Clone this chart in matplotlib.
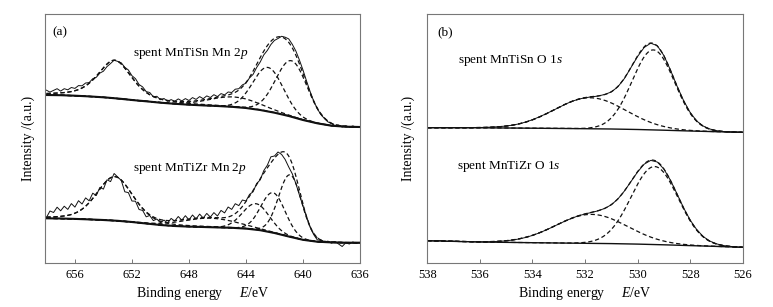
"""XPS Mn 2p and O 1s spectra of spent MnTiSn / MnTiZr with peak fitting."""

from __future__ import annotations

import matplotlib

matplotlib.use("Agg")
import matplotlib.pyplot as plt
import numpy as np


# ---- panel (a): Mn 2p, raw spectra sampled every 0.25 eV from 658 to 636 eV
MN_E_START, MN_E_STOP, MN_E_STEP = 658.0, 636.0, -0.25
MN_SN_RAW = [
    172.8, 170.9, 172.6, 174.3, 171.9, 174.3, 173.2, 175.5, 174.6, 177.4,
    177.2, 180.0, 180.4, 184.3, 185.7, 189.9, 191.8, 196.4, 199.5, 202.8,
    201.6, 200.2, 195.7, 193.0, 187.3, 184.3, 178.5, 176.1, 171.4, 170.5,
    166.2, 166.7, 163.3, 164.5, 161.7, 163.4, 161.7, 164.1, 162.1, 164.4,
    162.5, 165.4, 163.6, 166.4, 164.3, 167.1, 165.5, 168.3, 166.4, 169.4,
    168.1, 171.0, 170.5, 173.8, 174.3, 178.1, 179.8, 185.1, 188.6, 195.5,
    201.0, 208.1, 212.6, 218.5, 222.6, 224.5, 226.7, 225.8, 224.1, 218.7,
    212.0, 203.0, 193.0, 182.0, 171.5, 162.0, 154.5, 148.5, 144.6, 141.1,
    139.6, 137.3, 137.9, 135.9, 137.3, 135.8, 137.1, 135.7, 136.2,
]
MN_ZR_RAW = [
    45.5, 52.0, 50.5, 55.8, 52.2, 56.8, 53.6, 59.4, 55.9, 62.3,
    59.0, 65.1, 62.2, 69.8, 67.5, 75.6, 73.9, 83.2, 81.4, 89.5,
    86.0, 82.6, 71.2, 70.4, 62.0, 61.8, 53.5, 52.6, 46.2, 47.5,
    42.4, 44.0, 40.3, 42.9, 40.0, 44.6, 41.9, 46.5, 42.8, 47.3,
    43.2, 48.0, 44.1, 48.9, 45.0, 49.6, 45.9, 50.4, 47.0, 52.6,
    50.1, 56.0, 53.6, 59.3, 57.4, 63.0, 62.0, 68.6, 71.2, 79.5,
    83.1, 92.4, 97.8, 106.2, 107.0, 111.0, 108.6, 103.5, 96.0, 89.2,
    79.5, 68.0, 57.0, 46.5, 36.0, 28.5, 23.2, 22.6, 20.8, 21.9,
    19.8, 21.4, 19.0, 16.5, 20.2, 19.0, 21.0, 19.6, 20.5,
]
# Shirley-type backgrounds, every 1 eV from 658 to 636 eV
MN_BG_E = [658, 657, 656, 655, 654, 653, 652, 651, 650, 649, 648, 647,
           646, 645, 644, 643, 642, 641, 640, 639, 638, 637, 636]
MN_SN_BG = [168.0, 167.8, 167.3, 166.6, 165.7, 164.5, 163.0, 161.7, 160.3, 159.2, 158.3, 157.6,
            157.0, 156.2, 155.0, 153.0, 150.3, 147.0, 143.0, 139.7, 137.3, 136.3, 136.0]
MN_ZR_BG = [44.7, 44.5, 44.1, 43.6, 43.0, 42.2, 41.0, 39.5, 38.0, 37.0, 36.4, 36.0,
            35.6, 35.2, 34.4, 32.8, 30.0, 26.5, 23.2, 21.3, 20.6, 20.3, 20.3]
# fitted components: centre (eV), height above background, FWHM (eV), Lorentzian fraction
MN_SN_CENTER = [653.2, 644.8, 642.45, 640.8]
MN_SN_HEIGHT = [38.0, 10.0, 44.0, 56.0]
MN_SN_FWHM = [2.8, 4.2, 2.5, 2.6]
MN_SN_LMIX = [0.5, 0.0, 0.0, 0.0]
MN_ZR_CENTER = [653.2, 646.5, 643.3, 642.1, 640.9]
MN_ZR_HEIGHT = [44.0, 9.0, 26.0, 40.0, 62.0]
MN_ZR_FWHM = [3.0, 4.5, 2.2, 2.0, 1.9]
MN_ZR_LMIX = [0.3, 0.0, 0.0, 0.0, 0.0]

# ---- panel (b): O 1s, raw spectra sampled every 0.25 eV from 538 to 526 eV
O_E_START, O_E_STOP, O_E_STEP = 538.0, 526.0, -0.25
O_SN_RAW = [
    135.3, 135.3, 135.3, 135.2, 135.3, 135.3, 135.3, 135.4, 135.5, 135.7,
    136.0, 136.4, 137.0, 137.9, 139.2, 141.0, 143.3, 146.0, 149.0, 152.2,
    155.4, 158.8, 161.6, 163.8, 165.2, 166.2, 166.9, 168.6, 171.0, 176.2,
    184.5, 195.5, 206.5, 215.5, 219.8, 217.3, 207.5, 193.0, 177.0, 162.5,
    150.6, 142.0, 136.9, 134.0, 132.4, 131.5, 131.1, 130.9, 130.7,
]
O_ZR_RAW = [
    22.6, 22.0, 22.4, 21.7, 21.9, 21.4, 21.5, 21.2, 21.2, 21.2,
    21.4, 21.7, 22.2, 23.0, 24.1, 25.6, 27.6, 30.0, 32.8, 35.8,
    39.0, 42.0, 44.8, 47.2, 49.0, 50.6, 52.2, 54.6, 58.2, 64.0,
    72.0, 81.5, 91.0, 98.8, 102.6, 101.0, 94.0, 82.8, 69.2, 55.2,
    43.0, 33.4, 26.4, 21.9, 19.2, 17.5, 16.7, 16.1, 15.7,
]
O_BG_E = [538, 536, 534, 532, 531, 530, 529, 528, 527, 526]
O_SN_BG = [135.3, 135.2, 134.8, 134.3, 134.0, 133.5, 132.8, 132.0, 131.3, 130.7]
O_ZR_BG = [22.3, 21.0, 20.3, 19.7, 19.4, 18.9, 18.2, 17.4, 16.6, 15.7]
O_SN_CENTER = [531.8, 529.4]
O_SN_HEIGHT = [31.0, 80.0]
O_SN_FWHM = [3.2, 1.9]
O_ZR_CENTER = [531.75, 529.35]
O_ZR_HEIGHT = [29.0, 78.0]
O_ZR_FWHM = [3.2, 2.1]

MN_TICKS = [656, 652, 648, 644, 640, 636]
O_TICKS = [538, 536, 534, 532, 530, 528, 526]

INK = "#111111"
FRAME = "#777777"
DASH = (0, (3.4, 2.2))


def setup_style() -> None:
    plt.rcParams.update(
        {
            "font.family": "serif",
            "font.serif": ["Liberation Serif", "DejaVu Serif"],
            "mathtext.fontset": "custom",
            "mathtext.rm": "Liberation Serif",
            "mathtext.it": "Liberation Serif:italic",
            "font.size": 9.5,
            "axes.labelsize": 10,
            "xtick.labelsize": 9,
            "axes.linewidth": 0.8,
            "axes.edgecolor": FRAME,
        }
    )


def peak(e, center, height, fwhm, lmix=0.0):
    gauss = np.exp(-4.0 * np.log(2.0) * ((e - center) / fwhm) ** 2)
    lorentz = 1.0 / (1.0 + (2.0 * (e - center) / fwhm) ** 2)
    return height * ((1.0 - lmix) * gauss + lmix * lorentz)


def draw_spectrum(ax, e, raw, bg_e, bg, centers, heights, fwhms, lmix=None, bg_lw=1.5):
    if lmix is None:
        lmix = [0.0] * len(centers)
    e_fine = np.linspace(e[0], e[-1], 600)
    bg_fine = np.interp(e_fine, bg_e[::-1], bg[::-1])
    comps = [peak(e_fine, c, h, w, m) for c, h, w, m in zip(centers, heights, fwhms, lmix)]
    ax.plot(e, raw, color=INK, lw=0.7)
    ax.plot(bg_e, bg, color=INK, lw=bg_lw)
    for comp in comps:
        ax.plot(e_fine, bg_fine + comp, color=INK, lw=0.9, ls=DASH)
    ax.plot(e_fine, bg_fine + np.sum(comps, axis=0), color=INK, lw=0.9, ls=DASH)


def style_axes(ax, xlim, ticks, panel, panel_x, label_x):
    ax.set_xlim(*xlim)
    ax.set_ylim(0, 249)
    ax.set_xticks(ticks)
    ax.set_yticks([])
    ax.tick_params(axis="x", direction="in", length=3, width=0.7, color=FRAME, pad=4)
    ax.set_xlabel("Binding energy     $E$/eV")
    ax.set_ylabel("Intensity /(a.u.)")
    ax.xaxis.set_label_coords(0.5, -0.09)
    ax.yaxis.set_label_coords(label_x, 0.5)
    ax.text(panel_x, 0.928, panel, transform=ax.transAxes, ha="left", va="center", fontsize=9.5)


def main() -> None:
    setup_style()
    fig = plt.figure(figsize=(7.73, 3.07), dpi=100)
    ax_a = fig.add_axes([0.0582, 0.1433, 0.4075, 0.8111])
    ax_b = fig.add_axes([0.5528, 0.1433, 0.4080, 0.8111])

    mn_e = np.arange(MN_E_START, MN_E_STOP + MN_E_STEP / 2, MN_E_STEP)
    mn_bg_e = np.array(MN_BG_E, dtype=float)
    draw_spectrum(ax_a, mn_e, MN_SN_RAW, mn_bg_e, np.array(MN_SN_BG),
                  MN_SN_CENTER, MN_SN_HEIGHT, MN_SN_FWHM, MN_SN_LMIX)
    draw_spectrum(ax_a, mn_e, MN_ZR_RAW, mn_bg_e, np.array(MN_ZR_BG),
                  MN_ZR_CENTER, MN_ZR_HEIGHT, MN_ZR_FWHM, MN_ZR_LMIX)
    ax_a.text(651.95, 210, "spent MnTiSn Mn 2$p$", ha="left", va="center")
    ax_a.text(651.95, 95, "spent MnTiZr Mn 2$p$", ha="left", va="center")
    style_axes(ax_a, (658.1, 636), MN_TICKS, "(a)", 0.022, -0.033)

    o_e = np.arange(O_E_START, O_E_STOP + O_E_STEP / 2, O_E_STEP)
    o_bg_e = np.array(O_BG_E, dtype=float)
    draw_spectrum(ax_b, o_e, O_SN_RAW, o_bg_e, np.array(O_SN_BG),
                  O_SN_CENTER, O_SN_HEIGHT, O_SN_FWHM, bg_lw=1.0)
    draw_spectrum(ax_b, o_e, O_ZR_RAW, o_bg_e, np.array(O_ZR_BG),
                  O_ZR_CENTER, O_ZR_HEIGHT, O_ZR_FWHM, bg_lw=1.0)
    ax_b.text(536.83, 203, "spent MnTiSn O 1$s$", ha="left", va="center")
    ax_b.text(536.87, 97, "spent MnTiZr O 1$s$", ha="left", va="center")
    style_axes(ax_b, (538, 526), O_TICKS, "(b)", 0.031, -0.04)

    fig.savefig("out.png", dpi=100)
    plt.close(fig)


if __name__ == "__main__":
    main()
